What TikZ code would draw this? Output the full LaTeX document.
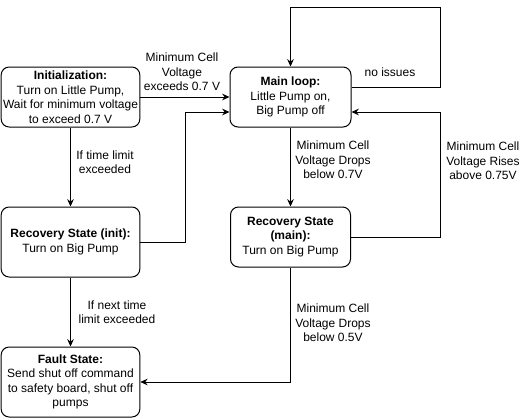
\documentclass[tikz,border=0pt]{standalone}
\usepackage{fontspec}
\setmainfont{Liberation Sans}
\usetikzlibrary{arrows.meta}

\begin{document}
\begin{tikzpicture}[x=0.75pt, y=-0.75pt, line width=0.75pt,
        >={Stealth[length=5.5pt,width=5pt]},
        state/.style={draw, rounded corners=6pt, align=center, inner sep=0pt,
                font=\fontsize{9}{10.9}\selectfont},
        cond/.style={align=center, inner sep=0pt, font=\fontsize{9}{10.9}\selectfont}]
        \useasboundingbox (0,0) rectangle (526,418);
        \node (init) [state, minimum width=104pt, minimum height=45pt] at (70.5,97) {\textbf{Initialization:}\\Turn on Little Pump,\\Wait for minimum voltage\\to exceed 0.7 V};
        \node (main) [state, minimum width=90.75pt, minimum height=45pt] at (290.5,97) {\textbf{Main loop:}\\Little Pump on,\\Big Pump off};
        \node (recinit) [state, minimum width=104pt, minimum height=52.5pt] at (70.5,242) {\textbf{Recovery State (init):}\\Turn on Big Pump};
        \node (recmain) [state, minimum width=90pt, minimum height=45pt] at (290.5,237) {\textbf{Recovery State}\\\textbf{(main):}\\Turn on Big Pump};
        \node (fault) [state, minimum width=104pt, minimum height=52.5pt] at (70.5,382) {\textbf{Fault State:}\\Send shut off command\\to safety board, shut off\\pumps};
        \coordinate (loopcorner) at (440,7);
        \coordinate (backcorner) at (440,112);
        \coordinate (initcorner) at (185,112);
        \node (c1) [cond] at (182,72) {Minimum Cell\\Voltage\\exceeds 0.7 V};
        \node (c2) [cond] at (105,162) {If time limit\\exceeded};
        \node (c3) [cond] at (390,72) {no issues};
        \node (c4) [cond] at (333,160) {Minimum Cell\\Voltage Drops\\below 0.7V};
        \node (c5) [cond] at (483,161) {Minimum Cell\\Voltage Rises\\above 0.75V};
        \node (c6) [cond] at (117,312) {If next time\\limit exceeded};
        \node (c7) [cond] at (333,323) {Minimum Cell\\Voltage Drops\\below 0.5V};
        \draw (init) edge [->] (main);
        \draw (init) edge [->] (recinit);
        \draw (main) edge [->] (recmain);
        \draw (recinit) edge [->] (fault);
        \draw [->] (recinit) -| (initcorner) -- (initcorner -| main.west);
        \draw [->] ([yshift=7.5pt]main.east) -| (loopcorner) -| (main);
        \draw [->] (recmain) -| (backcorner) -- (backcorner -| main.east);
        \draw [->] (recmain) |- (fault);
\end{tikzpicture}
\end{document}
